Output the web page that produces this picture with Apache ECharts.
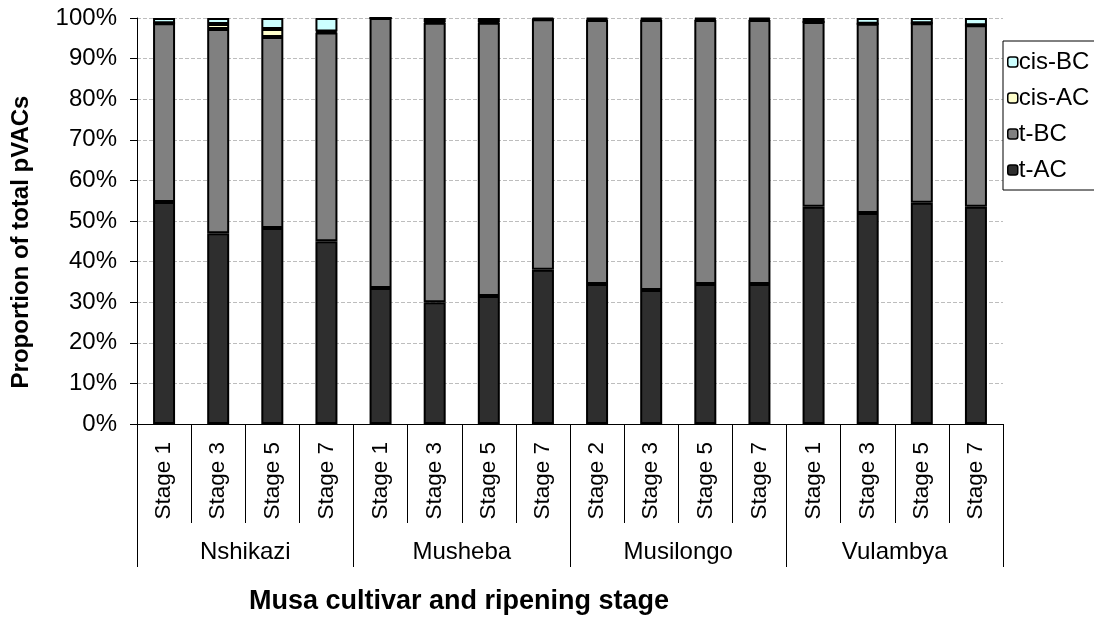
<!DOCTYPE html>
<html><head><meta charset="utf-8">
<script src="https://cdn.jsdelivr.net/npm/echarts@6/dist/echarts.min.js"></script>
<style>html,body{margin:0;padding:0;background:#fff}#c{width:1094px;height:621px}</style>
</head><body><div id="c"></div>
<script>
const stages = ['Stage 1','Stage 3','Stage 5','Stage 7','Stage 1','Stage 3','Stage 5','Stage 7','Stage 2','Stage 3','Stage 5','Stage 7','Stage 1','Stage 3','Stage 5','Stage 7'];
const cultivars = ['Nshikazi','Musheba','Musilongo','Vulambya'];
const tAC  = [54.7, 47.0, 48.3, 45.0, 33.5, 30.0, 31.5, 38.0, 34.5, 33.0, 34.5, 34.5, 53.5, 52.0, 54.5, 53.5];
const tBC  = [44.0, 50.3, 47.0, 51.4, 66.5, 68.8, 67.3, 61.7, 65.0, 66.5, 65.0, 65.0, 45.5, 46.6, 44.2, 44.7];
const cisAC = [0.0, 1.2, 2.0, 0.3, 0.0, 0.2, 0.2, 0.0, 0.2, 0.2, 0.2, 0.2, 0.0, 0.0, 0.0, 0.0];
const cisBC = [1.3, 1.5, 2.7, 3.3, 0.0, 1.0, 1.0, 0.3, 0.3, 0.3, 0.3, 0.3, 1.0, 1.4, 1.3, 1.8];
const yTicks = ['0%','10%','20%','30%','40%','50%','60%','70%','80%','90%','100%'];

const font = 'Liberation Sans, Arial, sans-serif';
const chart = echarts.init(document.getElementById('c'));
function bar(name, data, color){
  return {name, type:'bar', stack:'s', data, barWidth:22, xAxisIndex:0,
    itemStyle:{color, borderColor:'#000', borderWidth:2}};
}
chart.setOption({
  animation:false,
  grid:{left:137, right:91, top:18, bottom:197, containLabel:false},
  legend:{
    orient:'vertical', left:1003, top:41, data:['cis-BC','cis-AC','t-BC','t-AC'],
    itemWidth:10, itemHeight:10, itemGap:12, padding:[9,20,8,4],
    borderColor:'#000', borderWidth:1, borderRadius:0,
    textStyle:{fontFamily:font, fontSize:24, color:'#000', padding:[0,0,0,-4]},
    itemStyle:{borderColor:'#000', borderWidth:1.5}
  },
  xAxis:[
    {type:'category', data:stages, position:'bottom',
      axisLine:{lineStyle:{color:'#000', width:1}},
      axisTick:{show:true, length:99, interval:0, lineStyle:{color:'#000'}},
      axisLabel:{rotate:90, interval:0, margin:18, fontFamily:font, fontSize:22.5, color:'#000'}},
    {type:'category', data:cultivars, position:'bottom',
      axisLine:{show:false},
      axisTick:{show:true, length:143, interval:0, lineStyle:{color:'#000'}},
      axisLabel:{interval:0, margin:116, fontFamily:font, fontSize:24, color:'#000'},
      name:'Musa cultivar and ripening stage', nameLocation:'middle', nameGap:164,
      nameTextStyle:{fontFamily:font, fontSize:27, fontWeight:'bold', color:'#000', padding:[0,222,0,0]}}
  ],
  yAxis:{type:'value', min:0, max:100, interval:10,
    axisLine:{show:true, lineStyle:{color:'#000'}},
    axisTick:{show:true, length:7, lineStyle:{color:'#000'}},
    axisLabel:{formatter:v=>yTicks[Math.round(v/10)], fontFamily:font, fontSize:24, color:'#000', margin:20},
    splitLine:{show:true, lineStyle:{color:'#bdbdbd', type:'dashed', width:1}},
    name:'Proportion of total pVACs', nameLocation:'middle', nameGap:104, nameRotate:90,
    nameTextStyle:{fontFamily:font, fontSize:24, fontWeight:'bold', color:'#000', padding:[0,42,0,0]}
  },
  series:[
    bar('t-AC', tAC, '#2e2e2e'),
    bar('t-BC', tBC, '#808080'),
    bar('cis-AC', cisAC, '#ffffcc'),
    bar('cis-BC', cisBC, '#ccffff')
  ]
});
</script></body></html>
